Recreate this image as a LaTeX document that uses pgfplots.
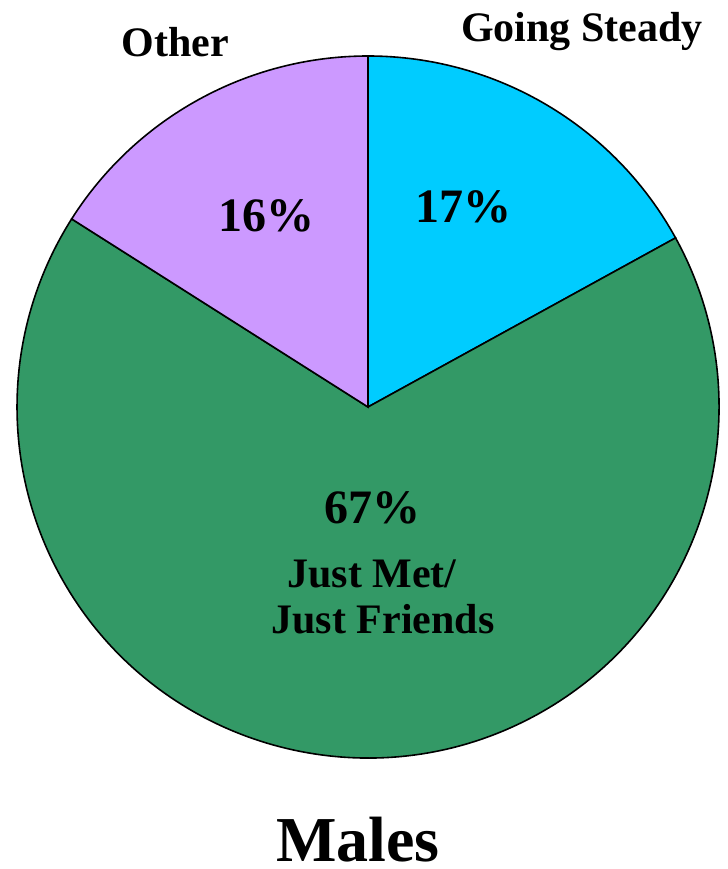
\documentclass[border=0pt]{standalone}
\usepackage{pgfplots}
\usepackage{pgfplotstable}
\pgfplotsset{compat=1.18}
\usepackage{fontspec}
\setmainfont{Liberation Serif}
\definecolor{gs}{HTML}{00CCFF}
\definecolor{jm}{HTML}{339966}
\definecolor{ot}{HTML}{CC99FF}
\pgfplotstableread{
label value
GoingSteady 17
JustMet 67
Other 16
}\piedata
\begin{document}
\begin{tikzpicture}
\pgfplotstablegetelem{0}{value}\of\piedata \let\vA\pgfplotsretval
\pgfplotstablegetelem{1}{value}\of\piedata \let\vB\pgfplotsretval
\pgfplotstablegetelem{2}{value}\of\piedata \let\vC\pgfplotsretval
\pgfmathsetmacro\aA{90}
\pgfmathsetmacro\aB{\aA-3.6*\vA}
\pgfmathsetmacro\aC{\aB-3.6*\vB}
\pgfmathsetmacro\aD{\aC-3.6*\vC}
\begin{axis}[
  at={(0,0)}, anchor=origin,
  x=0.5pt, y=0.5pt,
  xmin=0, xmax=728, ymin=0, ymax=869,
  hide axis, clip=false,
]
\filldraw[fill=gs, draw=black, line width=0.8pt] (axis cs:368,462) -- +(\aA:175.5pt) arc[start angle=\aA, end angle=\aB, radius=175.5pt] -- cycle;
\filldraw[fill=jm, draw=black, line width=0.8pt] (axis cs:368,462) -- +(\aB:175.5pt) arc[start angle=\aB, end angle=\aC, radius=175.5pt] -- cycle;
\filldraw[fill=ot, draw=black, line width=0.8pt] (axis cs:368,462) -- +(\aC:175.5pt) arc[start angle=\aC, end angle=\aD, radius=175.5pt] -- cycle;
\node[anchor=base, font=\fontsize{21}{25}\selectfont\bfseries] at (axis cs:582,827) {Going Steady};
\node[anchor=base, font=\fontsize{21}{25}\selectfont\bfseries] at (axis cs:175,812) {Other};
\node[anchor=base, font=\fontsize{24}{28}\selectfont\bfseries] at (axis cs:463,646) {17\%};
\node[anchor=base, font=\fontsize{24}{28}\selectfont\bfseries] at (axis cs:266,637) {16\%};
\node[anchor=base, font=\fontsize{24}{28}\selectfont\bfseries] at (axis cs:372,345) {67\%};
\node[anchor=base, font=\fontsize{21}{25}\selectfont\bfseries] at (axis cs:372,281) {Just Met/};
\node[anchor=base, font=\fontsize{21}{25}\selectfont\bfseries] at (axis cs:383,235) {Just Friends};
\node[anchor=base, font=\fontsize{32}{38}\selectfont\bfseries] at (axis cs:358,8) {Males};
\end{axis}
\pgfresetboundingbox
\path (0,0) rectangle (364pt,434.5pt);
\end{tikzpicture}
\end{document}
